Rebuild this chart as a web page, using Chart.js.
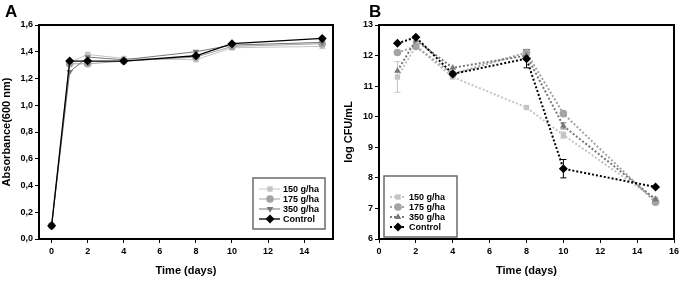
<!DOCTYPE html>
<html lang="en">
  <head>
    <meta charset="UTF-8" />
    <title>Absorbance and log CFU over time</title>
    <script src="https://cdn.jsdelivr.net/npm/chart.js"></script>
    <style>
      body { margin: 0; background: #fff; font-family: "Liberation Sans", Arial, sans-serif; }
      .wrap { position: relative; width: 685px; height: 281px; }
      canvas { position: absolute; top: 0; }
      #chartA { left: 0; }
      #chartB { left: 342px; }
      .letter { position: absolute; top: 2px; font-weight: bold; font-size: 17px; }
    </style>
  </head>
  <body>
    <div class="wrap">
      <canvas id="chartA" width="342" height="281"></canvas>
      <canvas id="chartB" width="343" height="281"></canvas>
      <div class="letter" style="left: 5px">A</div>
      <div class="letter" style="left: 369px">B</div>
    </div>

    <script>
      // Panel A - absorbance
      const daysA = [0, 1, 2, 4, 8, 10, 15];
      const absA150 = [0.1, 1.32, 1.38, 1.35, 1.34, 1.43, 1.44];
      const absA175 = [0.1, 1.31, 1.31, 1.33, 1.36, 1.44, 1.46];
      const absA350 = [0.1, 1.25, 1.36, 1.34, 1.40, 1.45, 1.47];
      const absAControl = [0.1, 1.33, 1.33, 1.33, 1.37, 1.46, 1.50];

      // Panel B - log CFU/mL
      const daysB = [1, 2, 4, 8, 10, 15];
      const cfu150 = [11.3, 12.3, 11.3, 10.3, 9.4, 7.3];
      const cfu175 = [12.1, 12.3, 11.4, 12.1, 10.1, 7.2];
      const cfu350 = [11.5, 12.5, 11.6, 12.0, 9.7, 7.3];
      const cfuControl = [12.4, 12.6, 11.4, 11.9, 8.3, 7.7];
      const err150 = [0.5, 0, 0, 0, 0.1, 0];
      const err175 = [0, 0, 0, 0.1, 0, 0];
      const err350 = [0, 0, 0, 0.1, 0.1, 0];
      const errControl = [0, 0, 0, 0.3, 0.3, 0];

      const seriesLabels = ["150 g/ha", "175 g/ha", "350 g/ha", "Control"];
      const colors = ["#c4c4c4", "#a3a3a3", "#777777", "#000000"];
      const tickFont = { family: "Liberation Sans", size: 9, weight: "bold" };
      const titleFont = { family: "Liberation Sans", size: 11, weight: "bold" };

      const pts = (xs, ys) => xs.map((x, i) => ({ x: x, y: ys[i] }));

      const frame = {
        id: "frame",
        afterDatasetsDraw(chart) {
          const { ctx, chartArea: a } = chart;
          ctx.save();
          ctx.strokeStyle = "#000";
          ctx.lineWidth = 2;
          ctx.strokeRect(a.left, a.top, a.right - a.left, a.bottom - a.top);
          ctx.restore();
        },
      };

      const errorBars = {
        id: "errorBars",
        beforeDatasetsDraw(chart) {
          const { ctx } = chart;
          const xs = chart.scales.x;
          const ys = chart.scales.y;
          chart.data.datasets.forEach((ds) => {
            if (!ds.errors) return;
            ctx.save();
            ctx.strokeStyle = ds.borderColor;
            ctx.lineWidth = 1;
            ds.data.forEach((p, i) => {
              const e = ds.errors[i];
              if (!e) return;
              const px = xs.getPixelForValue(p.x);
              const top = ys.getPixelForValue(p.y + e);
              const bot = ys.getPixelForValue(p.y - e);
              ctx.beginPath();
              ctx.moveTo(px, top);
              ctx.lineTo(px, bot);
              ctx.moveTo(px - 3, top);
              ctx.lineTo(px + 3, top);
              ctx.moveTo(px - 3, bot);
              ctx.lineTo(px + 3, bot);
              ctx.stroke();
            });
            ctx.restore();
          });
        },
      };

      const boxLegend = {
        id: "boxLegend",
        afterDraw(chart, args, opts) {
          const { ctx, chartArea: a } = chart;
          const x = opts.anchor === "right" ? a.right - opts.dx - opts.w : a.left + opts.dx;
          const y = a.bottom - opts.dy - opts.h;
          ctx.save();
          ctx.fillStyle = "#fff";
          ctx.fillRect(x, y, opts.w, opts.h);
          ctx.strokeStyle = "#6a6a6a";
          ctx.lineWidth = 1.5;
          ctx.strokeRect(x, y, opts.w, opts.h);
          chart.data.datasets.forEach((ds, i) => {
            const ly = y + opts.first + i * opts.gap;
            ctx.strokeStyle = ds.borderColor;
            ctx.lineWidth = ds.borderWidth;
            ctx.setLineDash(ds.borderDash || []);
            ctx.beginPath();
            ctx.moveTo(x + opts.line[0], ly);
            ctx.lineTo(x + opts.line[1], ly);
            ctx.stroke();
            ctx.setLineDash([]);
            ctx.fillStyle = ds.pointBackgroundColor;
            Chart.helpers.drawPoint(ctx, {
              pointStyle: ds.pointStyle,
              rotation: ds.pointRotation || 0,
              radius: ds.pointRadius,
              borderWidth: 0,
            }, x + opts.marker, ly);
            ctx.fillStyle = "#000";
            ctx.font = "bold 9px 'Liberation Sans'";
            ctx.textBaseline = "middle";
            ctx.fillText(ds.label, x + opts.text, ly + 0.5);
          });
          ctx.restore();
        },
      };

      const makeDataset = (label, xs, ys, i, style, dotted, errors) => ({
        label: label,
        data: pts(xs, ys),
        errors: errors,
        order: 3 - i,
        borderColor: colors[i],
        backgroundColor: colors[i],
        pointBackgroundColor: colors[i],
        pointBorderColor: colors[i],
        pointBorderWidth: 0,
        pointStyle: style[0],
        pointRotation: style[1],
        pointRadius: i === 3 ? 4.5 : 3.8,
        borderWidth: dotted ? 2 : (i === 3 ? 1.3 : 1),
        borderDash: dotted ? [2, 2] : undefined,
        tension: 0,
      });

      const styles = [["rect", 0], ["circle", 0], ["triangle", 180], ["rectRot", 0]];
      const stylesB = [["rect", 0], ["circle", 0], ["triangle", 0], ["rectRot", 0]];

      const makeScales = (xMin, xMax, yMin, yMax, yStep, yTitle, yWidth, fmt) => ({
        x: {
          type: "linear",
          min: xMin,
          max: xMax,
          ticks: { stepSize: 2, includeBounds: false, color: "#000", font: tickFont, padding: 3, maxRotation: 0 },
          grid: { display: true, drawOnChartArea: false, drawTicks: true, tickLength: 4, color: "#000" },
          border: { display: false },
          title: { display: true, text: "Time (days)", color: "#000", font: titleFont, padding: { top: 6, bottom: 3 } },
          afterFit(s) { s.height = 42; },
        },
        y: {
          min: yMin,
          max: yMax,
          ticks: { stepSize: yStep, color: "#000", font: tickFont, padding: 2, callback: fmt },
          grid: { display: true, drawOnChartArea: false, drawTicks: true, tickLength: 4, color: "#000" },
          border: { display: false },
          title: { display: true, text: yTitle, color: "#000", font: titleFont, padding: 0 },
          afterFit(s) { s.width = yWidth; },
        },
      });

      new Chart(document.getElementById("chartA"), {
        type: "line",
        data: {
          datasets: [
            makeDataset(seriesLabels[0], daysA, absA150, 0, styles[0], false),
            makeDataset(seriesLabels[1], daysA, absA175, 1, styles[1], false),
            makeDataset(seriesLabels[2], daysA, absA350, 2, styles[2], false),
            makeDataset(seriesLabels[3], daysA, absAControl, 3, styles[3], false),
          ],
        },
        options: {
          responsive: false,
          animation: false,
          devicePixelRatio: 1,
          layout: { padding: { top: 25, right: 9, left: 0, bottom: 0 } },
          plugins: {
            legend: { display: false },
            tooltip: { enabled: false },
            boxLegend: { anchor: "right", dx: 8, dy: 10, w: 72, h: 51, first: 11, gap: 10,
              line: [6, 27], marker: 17, text: 30 },
          },
          scales: makeScales(-0.7, 15.6, 0, 1.6, 0.2, "Absorbance(600 nm)", 39,
            (v) => v.toFixed(1).replace(".", ",")),
        },
        plugins: [errorBars, frame, boxLegend],
      });

      new Chart(document.getElementById("chartB"), {
        type: "line",
        data: {
          datasets: [
            makeDataset(seriesLabels[0], daysB, cfu150, 0, stylesB[0], true, err150),
            makeDataset(seriesLabels[1], daysB, cfu175, 1, stylesB[1], true, err175),
            makeDataset(seriesLabels[2], daysB, cfu350, 2, stylesB[2], true, err350),
            makeDataset(seriesLabels[3], daysB, cfuControl, 3, stylesB[3], true, errControl),
          ],
        },
        options: {
          responsive: false,
          animation: false,
          devicePixelRatio: 1,
          layout: { padding: { top: 25, right: 11, left: 0, bottom: 0 } },
          plugins: {
            legend: { display: false },
            tooltip: { enabled: false },
            boxLegend: { anchor: "left", dx: 5, dy: 2, w: 73, h: 61, first: 21, gap: 10,
              line: [6, 22], marker: 14, text: 25 },
          },
          scales: makeScales(0, 16, 6, 13, 1, "log CFU/mL", 37, (v) => v),
        },
        plugins: [errorBars, frame, boxLegend],
      });
    </script>
  </body>
</html>
